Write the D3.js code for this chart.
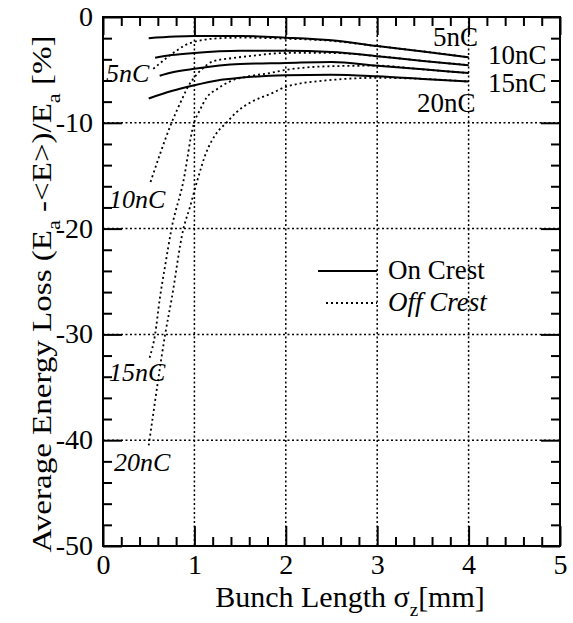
<!DOCTYPE html>
<html>
<head>
<meta charset="utf-8">
<script src="https://cdn.jsdelivr.net/npm/d3@7"></script>
<style>
  body { margin: 0; background: #fff; }
  svg { font-family: "Liberation Serif", "Times New Roman", Times, serif; }
  .axis text { font-size: 28px; fill: #000; font-family: "Liberation Serif", "Times New Roman", Times, serif; }
  .axis line { stroke: #000; stroke-width: 2; }
</style>
</head>
<body>
<div class="chart"></div>
<script>
// values: [bunch length mm, energy loss %]
const charges = ["5nC", "10nC", "15nC", "20nC"];

const on5nC  = [[0.5,-2.0],[1.0,-1.8],[1.5,-1.8],[2.0,-1.95],[2.5,-2.2],[3.0,-2.75],[3.5,-3.25],[4.0,-3.8]];
const on10nC = [[0.57,-3.85],[0.75,-3.6],[1.0,-3.4],[1.5,-3.2],[2.0,-3.2],[2.5,-3.3],[3.0,-3.7],[3.5,-4.15],[4.0,-4.55]];
const on15nC = [[0.62,-5.55],[0.75,-5.25],[1.0,-4.9],[1.5,-4.45],[2.0,-4.35],[2.5,-4.25],[3.0,-4.6],[3.5,-4.95],[4.0,-5.3]];
const on20nC = [[0.5,-7.7],[0.75,-7.0],[1.0,-6.45],[1.25,-6.0],[1.5,-5.75],[2.0,-5.5],[2.5,-5.45],[3.0,-5.6],[3.5,-5.85],[4.0,-6.1]];

const off5nC  = [[0.55,-4.9],[0.62,-4.4],[0.72,-3.7],[0.82,-3.1],[0.9,-2.65],[1.0,-2.35],[1.2,-2.05],[1.5,-1.95],[2.0,-2.05],[2.5,-2.25],[3.0,-2.75],[3.5,-3.25],[4.0,-3.8]];
const off10nC = [[0.52,-15.6],[0.63,-12.8],[0.75,-10.0],[0.86,-7.85],[0.93,-6.6],[1.0,-5.7],[1.1,-4.8],[1.2,-4.2],[1.4,-3.9],[1.6,-3.7],[2.0,-3.4],[2.5,-3.4],[3.0,-3.7],[3.5,-4.15],[4.0,-4.55]];
const off15nC = [[0.51,-32.2],[0.57,-30],[0.62,-26.7],[0.68,-23.5],[0.75,-20],[0.88,-15.5],[0.99,-10.2],[1.06,-8.8],[1.13,-7.66],[1.25,-6.8],[1.39,-6.08],[1.6,-5.6],[1.83,-5.29],[2.0,-5.0],[2.5,-4.65],[3.0,-4.6],[3.5,-4.95],[4.0,-5.3]];
const off20nC = [[0.5,-40.5],[0.55,-37.5],[0.6,-34.5],[0.68,-30],[0.75,-26.7],[0.88,-20],[0.95,-18],[1.03,-15.5],[1.13,-12.8],[1.24,-11],[1.35,-10],[1.46,-9],[1.63,-8],[1.85,-7.2],[2.0,-6.6],[2.5,-5.95],[3.0,-5.75],[3.5,-5.85],[4.0,-6.1]];

const xTicks = [0, 1, 2, 3, 4, 5];
const yTicks = [0, -10, -20, -30, -40, -50];

const W = 573, H = 623;
const margin = ({top: 17, right: 13, bottom: 77, left: 103});

const svg = d3.select(".chart")
    .append("svg")
    .attr("width", W)
    .attr("height", H);

const x = d3.scaleLinear().domain([0, 5]).range([margin.left, W - margin.right]);
const y = d3.scaleLinear().domain([-50, 0]).range([H - margin.bottom, margin.top]);

const xMinor = d3.range(0, 5.001, 0.2).filter(v => Math.abs(v - Math.round(v)) > 1e-6);
const yMinor = d3.range(-50, 0.001, 2).filter(v => v % 10 !== 0);

// grid
svg.append("g")
    .selectAll("line")
    .data(xTicks.slice(1, -1))
    .join("line")
    .attr("x1", d => x(d)).attr("x2", d => x(d))
    .attr("y1", y(0)).attr("y2", y(-50))
    .attr("stroke", "#000").attr("stroke-width", 1.5)
    .attr("stroke-dasharray", "2,2.5");

svg.append("g")
    .selectAll("line")
    .data(yTicks.slice(1, -1))
    .join("line")
    .attr("x1", x(0)).attr("x2", x(5))
    .attr("y1", d => y(d)).attr("y2", d => y(d))
    .attr("stroke", "#000").attr("stroke-width", 1.5)
    .attr("stroke-dasharray", "2,2.5");

// axes with inward ticks on all four sides
function drawAxis(axisFn, scale, pos, values, size, labels, pad) {
    const ax = axisFn(scale).tickValues(values).tickSize(-size).tickPadding(pad || 0)
        .tickFormat(labels ? (d => String(d)) : "");
    const g = svg.append("g")
        .attr("class", "axis")
        .attr("transform", pos)
        .call(ax)
        .call(g => g.select(".domain").remove());
    g.attr("font-family", null).attr("font-size", null);
    return g;
}

const bottomT = `translate(0,${y(-50)})`, topT = `translate(0,${y(0)})`;
const leftT = `translate(${x(0)},0)`, rightT = `translate(${x(5)},0)`;

drawAxis(d3.axisBottom, x, bottomT, xMinor, 9);
drawAxis(d3.axisBottom, x, bottomT, xTicks, 20, true, 8);
drawAxis(d3.axisTop, x, topT, xMinor, 9);
drawAxis(d3.axisTop, x, topT, xTicks, 18);
drawAxis(d3.axisLeft, y, leftT, yMinor, 9);
drawAxis(d3.axisLeft, y, leftT, yTicks, 19, true, 10)
    .selectAll("text").attr("dy", "0.3em");
drawAxis(d3.axisRight, y, rightT, yMinor, 9);
drawAxis(d3.axisRight, y, rightT, yTicks, 19);

// frame
svg.append("rect")
    .attr("x", x(0)).attr("y", y(0))
    .attr("width", x(5) - x(0)).attr("height", y(-50) - y(0))
    .attr("fill", "none").attr("stroke", "#000").attr("stroke-width", 2);

// curves
const line = d3.line()
    .x(d => x(d[0]))
    .y(d => y(d[1]))
    .curve(d3.curveMonotoneX);

svg.append("g")
    .selectAll("path")
    .data([off5nC, off10nC, off15nC, off20nC])
    .join("path")
    .attr("d", line)
    .attr("fill", "none")
    .attr("stroke", "#000")
    .attr("stroke-width", 1.8)
    .attr("stroke-dasharray", "2,3");

svg.append("g")
    .selectAll("path")
    .data([on5nC, on10nC, on15nC, on20nC])
    .join("path")
    .attr("d", line)
    .attr("fill", "none")
    .attr("stroke", "#000")
    .attr("stroke-width", 2);

// curve labels
const rightLabels = [[433, 46], [488, 64], [488, 92], [417, 112]];
svg.append("g")
    .selectAll("text")
    .data(charges)
    .join("text")
    .attr("x", (d, i) => rightLabels[i][0])
    .attr("y", (d, i) => rightLabels[i][1])
    .attr("font-size", 27)
    .text(d => d);

const leftLabels = [[106, 82], [109, 208], [109, 381], [114, 471]];
svg.append("g")
    .selectAll("text")
    .data(charges)
    .join("text")
    .attr("x", (d, i) => leftLabels[i][0])
    .attr("y", (d, i) => leftLabels[i][1])
    .attr("font-size", 26)
    .attr("font-style", "italic")
    .text(d => d);

// legend
const legend = svg.append("g").attr("font-size", 27);
legend.append("line")
    .attr("x1", 318).attr("x2", 377).attr("y1", 271).attr("y2", 271)
    .attr("stroke", "#000").attr("stroke-width", 2);
legend.append("line")
    .attr("x1", 326).attr("x2", 377).attr("y1", 303).attr("y2", 303)
    .attr("stroke", "#000").attr("stroke-width", 1.8).attr("stroke-dasharray", "2,3");
legend.append("text").attr("x", 388).attr("y", 279).text("On Crest");
legend.append("text").attr("x", 388).attr("y", 311).attr("font-style", "italic").text("Off Crest");

// axis titles
const xlabel = svg.append("text")
    .attr("x", 350).attr("y", 607)
    .attr("text-anchor", "middle")
    .attr("font-size", 30);
xlabel.append("tspan").text("Bunch Length σ");
xlabel.append("tspan").attr("font-size", 19).attr("dy", 9).text("z");
xlabel.append("tspan").attr("dy", -9).text("[mm]");

const ylabel = svg.append("text")
    .attr("transform", "translate(51,294) rotate(-90) scale(1.18,1)")
    .attr("text-anchor", "middle")
    .attr("font-size", 28);
ylabel.append("tspan").text("Average Energy Loss (E");
ylabel.append("tspan").attr("font-size", 19).attr("dy", 9).text("a");
ylabel.append("tspan").attr("dy", -9).text(" -<E>)/E");
ylabel.append("tspan").attr("font-size", 19).attr("dy", 9).text("a");
ylabel.append("tspan").attr("dy", -9).text(" [%]");
</script>
</body>
</html>
